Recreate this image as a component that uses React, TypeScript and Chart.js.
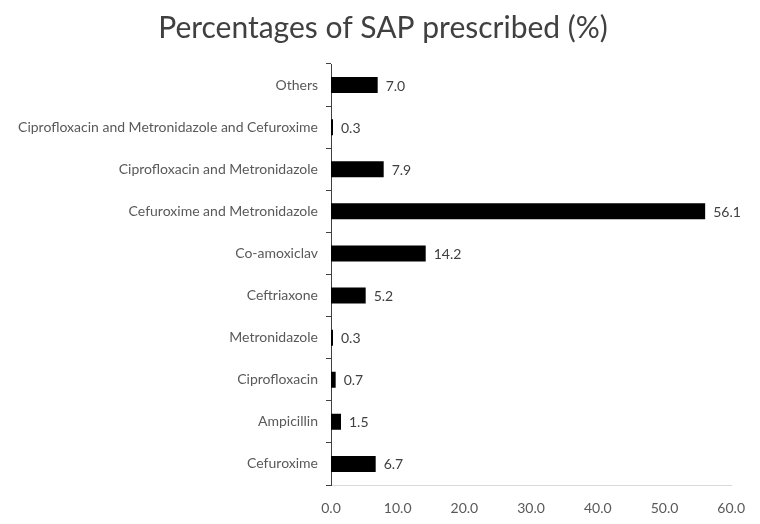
import React, { useEffect, useRef } from "react";
import { Chart, registerables } from "chart.js";

Chart.register(...registerables);

const categories = [
  "Others",
  "Ciprofloxacin and Metronidazole and Cefuroxime",
  "Ciprofloxacin and Metronidazole",
  "Cefuroxime and Metronidazole",
  "Co-amoxiclav",
  "Ceftriaxone",
  "Metronidazole",
  "Ciprofloxacin",
  "Ampicillin",
  "Cefuroxime",
];
const values = [7.0, 0.3, 7.9, 56.1, 14.2, 5.2, 0.3, 0.7, 1.5, 6.7];
const xTicks = [0, 10, 20, 30, 40, 50, 60];
const titleText = "Percentages of SAP prescribed (%)";

const FONT = "Lato, 'Open Sans', sans-serif";

const labelPlugin = {
  id: "barValueLabels",
  afterDatasetsDraw(chart: any) {
    const ctx = chart.ctx;
    const meta = chart.getDatasetMeta(0);
    ctx.save();
    ctx.font = `14px ${FONT}`;
    ctx.fillStyle = "#404040";
    ctx.textAlign = "left";
    ctx.textBaseline = "middle";
    meta.data.forEach((bar: any, i: number) => {
      ctx.fillText(values[i].toFixed(1), bar.x + 8, bar.y + 1);
    });
    ctx.restore();
  },
};

const titlePlugin = {
  id: "centeredTitle",
  afterDraw(chart: any) {
    const ctx = chart.ctx;
    ctx.save();
    ctx.font = `30px ${FONT}`;
    ctx.fillStyle = "#404040";
    ctx.textAlign = "center";
    ctx.textBaseline = "middle";
    ctx.fillText(titleText, chart.width / 2 + 3, 28);
    ctx.restore();
  },
};

export default function App() {
  const ref = useRef<HTMLCanvasElement | null>(null);
  useEffect(() => {
    document.body.style.margin = "0";
    const chart = new Chart(ref.current as HTMLCanvasElement, {
      type: "bar",
      data: {
        labels: categories,
        datasets: [
          {
            data: values,
            backgroundColor: "#000000",
            barPercentage: 0.38,
            categoryPercentage: 1,
          },
        ],
      },
      options: {
        indexAxis: "y",
        responsive: false,
        animation: false,
        layout: { padding: { left: 0, right: 26, top: 64, bottom: 0 } },
        plugins: {
          legend: { display: false },
          tooltip: { enabled: false },
          title: { display: false },
        },
        scales: {
          x: {
            min: 0,
            max: 60,
            afterBuildTicks(scale: any) {
              scale.ticks = xTicks.map((v) => ({ value: v }));
            },
            afterFit(scale: any) {
              scale.height = 39;
            },
            grid: { display: false, drawTicks: false },
            border: { display: true, color: "#d9d9d9", width: 1 },
            ticks: {
              color: "#595959",
              font: { family: FONT, size: 14 },
              padding: 15,
              callback: (v: any) => Number(v).toFixed(1),
            },
          },
          y: {
            afterFit(scale: any) {
              scale.width = 331;
            },
            grid: {
              display: true,
              drawOnChartArea: false,
              drawTicks: true,
              tickLength: 5,
              color: "#404040",
              offset: true,
            },
            border: { display: true, color: "#404040", width: 1 },
            ticks: {
              color: "#595959",
              font: { family: FONT, size: 14 },
              padding: 8,
            },
          },
        },
      },
      plugins: [labelPlugin, titlePlugin],
    });
    return () => chart.destroy();
  }, []);
  return (
    <div style={{ width: 760, height: 524 }}>
      <canvas ref={ref} width={760} height={524} />
    </div>
  );
}
